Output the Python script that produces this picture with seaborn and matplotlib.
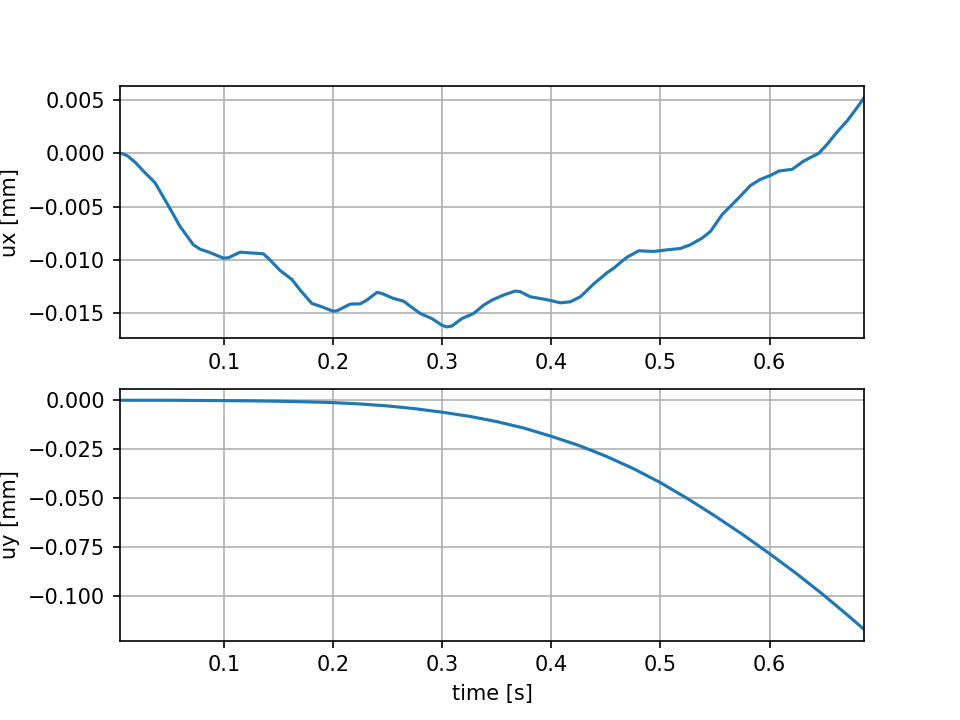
import numpy as np
import pandas as pd
import matplotlib
matplotlib.use('Agg')
import matplotlib.pyplot as plt
import seaborn as sns

# Horizontal displacement ux [mm]
t_ux = [0.0046, 0.008, 0.0122, 0.019, 0.026, 0.0367, 0.0474, 0.0596, 0.0718, 0.078, 0.087, 0.0994,
        0.104, 0.1147, 0.127, 0.136, 0.142, 0.1514, 0.1621, 0.1697, 0.1805, 0.1896,
        0.1997, 0.2034, 0.2156, 0.2248, 0.2309, 0.2401, 0.2447, 0.2553, 0.2645, 0.2706,
        0.2798, 0.2905, 0.2997, 0.3043, 0.3089, 0.318, 0.3287, 0.3379, 0.3456, 0.3562,
        0.367, 0.3716, 0.3807, 0.3929, 0.4006, 0.4083, 0.4174, 0.4266, 0.4388, 0.4511,
        0.4572, 0.4633, 0.4694, 0.4801, 0.4939, 0.5061, 0.5183, 0.5275, 0.5382, 0.5459,
        0.5566, 0.5703, 0.5826, 0.5917, 0.6009, 0.6086, 0.6208, 0.6315, 0.6452, 0.6529,
        0.6621, 0.6713, 0.6805, 0.6866]
ux = [0.0, -0.00008, -0.0003, -0.0009, -0.00167, -0.00277, -0.00465, -0.00686, -0.00858, -0.0090, -0.00931, -0.00984,
      -0.0098, -0.00928, -0.00937, -0.00943, -0.0100, -0.0110, -0.01183, -0.01283, -0.01409, -0.0144,
      -0.01481, -0.01478, -0.01415, -0.01412, -0.01377, -0.01305, -0.01315, -0.01362, -0.01387, -0.01434,
      -0.01503, -0.0155, -0.01613, -0.01629, -0.0162, -0.0155, -0.01503, -0.01425, -0.01377, -0.0133,
      -0.01292, -0.01299, -0.01346, -0.01368, -0.01384, -0.01403, -0.01393, -0.01346, -0.01226, -0.0112,
      -0.01078, -0.01025, -0.00975, -0.00915, -0.00921, -0.00906, -0.00893, -0.00858, -0.00796, -0.00733,
      -0.00575, -0.00434, -0.00302, -0.00245, -0.00208, -0.00167, -0.00151, -0.00072, 0.0, 0.00085,
      0.00201, 0.00305, 0.00431, 0.00519]

# Vertical displacement uy [mm]
t_uy = [0.0046, 0.025, 0.05, 0.075, 0.1, 0.125, 0.15, 0.175, 0.2, 0.225,
        0.25, 0.275, 0.3, 0.325, 0.35, 0.375, 0.4, 0.425, 0.45, 0.475,
        0.5, 0.525, 0.55, 0.575, 0.6, 0.625, 0.65, 0.675, 0.6866]
uy = [0.0, 0.0, 0.0, -0.0001, -0.0002, -0.0003, -0.0005, -0.0008, -0.0012, -0.0019,
      -0.0029, -0.0043, -0.0061, -0.0082, -0.0109, -0.0142, -0.0184, -0.0230, -0.0285, -0.0348,
      -0.0420, -0.0502, -0.0590, -0.0683, -0.0782, -0.0885, -0.0995, -0.1112, -0.1168]

df_x = pd.DataFrame({'time': t_ux, 'ux': ux})
df_y = pd.DataFrame({'time': t_uy, 'uy': uy})

# default 6.4x4.8 figure saved at 150 dpi -> 960x720
fig, (ax1, ax2) = plt.subplots(2, 1, figsize=(6.4, 4.8), dpi=150)

sns.lineplot(data=df_x, x='time', y='ux', ax=ax1, color='#1f77b4', linewidth=1.5)
ax1.set_xlim(t_ux[0], t_ux[-1])
ax1.set_xlabel('')
ax1.set_ylabel('ux [mm]')
ax1.grid(True)

sns.lineplot(data=df_y, x='time', y='uy', ax=ax2, color='#1f77b4', linewidth=1.5)
ax2.set_xlim(t_uy[0], t_uy[-1])
ax2.set_xlabel('time [s]')
ax2.set_ylabel('uy [mm]')
ax2.grid(True)

plt.savefig('out.png', dpi=150)
